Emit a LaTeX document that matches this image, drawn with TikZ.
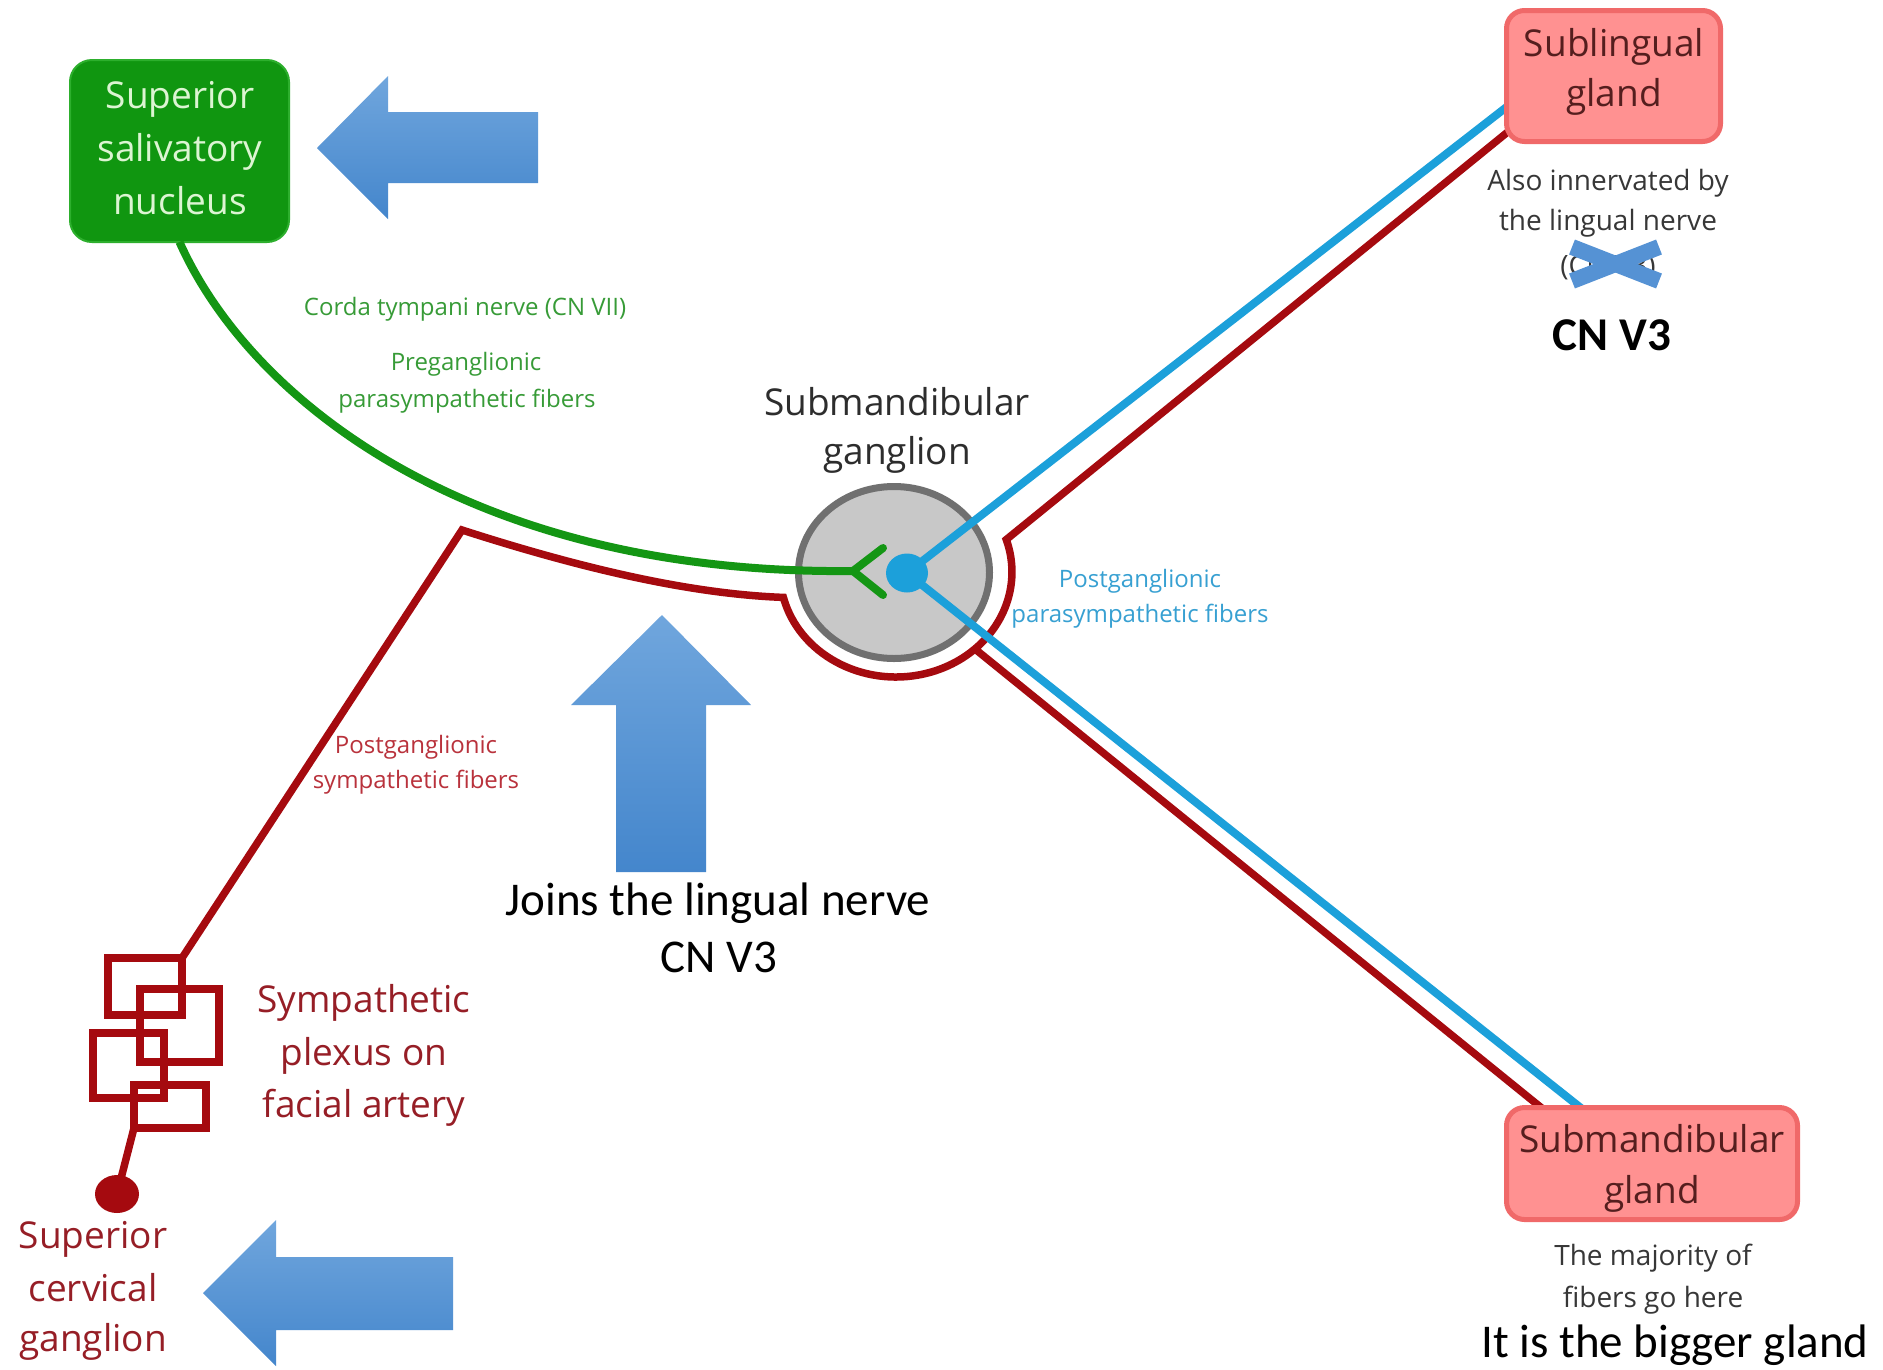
\documentclass[tikz,border=0pt]{standalone}
\usepackage{fontspec}
\setmainfont{Open Sans}
\newfontfamily\calib{Carlito}
\usetikzlibrary{shapes.geometric}
\definecolor{nvgreen}{RGB}{20,150,20}
\definecolor{boxgreen}{RGB}{16,150,16}
\definecolor{boxgreenedge}{RGB}{45,175,45}
\definecolor{boxgreentext}{RGB}{220,245,210}
\definecolor{lblgreen}{RGB}{55,155,55}
\definecolor{nvred}{RGB}{165,10,15}
\definecolor{lblred}{RGB}{185,50,60}
\definecolor{plexred}{RGB}{150,30,38}
\definecolor{nvblue}{RGB}{28,160,218}
\definecolor{lblblue}{RGB}{55,160,210}
\definecolor{gfill}{RGB}{200,200,200}
\definecolor{gdraw}{RGB}{112,112,112}
\definecolor{pinkfill}{RGB}{255,145,145}
\definecolor{pinkdraw}{RGB}{240,105,105}
\definecolor{pinktext}{RGB}{85,30,30}
\definecolor{dgray}{RGB}{45,45,45}
\definecolor{mgray}{RGB}{55,55,55}
\definecolor{arrtop}{RGB}{112,166,221}
\definecolor{arrbot}{RGB}{68,134,204}
\definecolor{xblue}{RGB}{85,146,212}
\begin{document}
\begin{tikzpicture}[x=1pt,y=-1pt,
  lab/.style={anchor=base, inner sep=0pt, outer sep=0pt},
  fbig/.style={font=\fontsize{37}{44}\selectfont},
  fsmall/.style={font=\fontsize{24}{28}\selectfont},
  fmid/.style={font=\fontsize{28}{32}\selectfont},
  fcal/.style={font=\calib\fontsize{47}{56}\selectfont},
  nerve/.style={line width=7.5pt, line join=miter},
  rednerve/.style={nerve, draw=nvred},
  greennerve/.style={nerve, line width=8pt, draw=nvgreen},
  bluenerve/.style={nerve, line width=8pt, draw=nvblue},
  plexbox/.style={rectangle, draw=nvred, line width=7.5pt, inner sep=0pt, outer sep=0pt},
  glandbox/.style={rectangle, rounded corners=18pt, fill=pinkfill, draw=pinkdraw, line width=5pt, inner sep=0pt, outer sep=0pt},
  bigarrow/.style={top color=arrtop, bottom color=arrbot},
  xbar/.style={draw=xblue, line width=16pt}
]
\path[use as bounding box, fill=white] (0,0) rectangle (1883,1369);

% ---------- ganglion ----------
\node[ellipse, fill=gfill, draw=gdraw, line width=7pt, minimum width=191pt, minimum height=172pt, inner sep=0pt, outer sep=0pt] (gang) at (894,572.5) {};

% ---------- superior salivatory nucleus ----------
\node[rectangle, rounded corners=22pt, fill=boxgreen, draw=boxgreenedge, line width=2pt, minimum width=219pt, minimum height=182pt, inner sep=0pt, outer sep=0pt] (ssn) at (179.5,151) {};

% ---------- coordinates ----------
\coordinate (gfork) at (853,571);
\coordinate (gup) at (883,548);
\coordinate (gdn) at (883,595);
\coordinate (rpk) at (462,530);
\coordinate (rcor) at (783.4,597.4);
\coordinate (rsl) at (1512,128.5);
\coordinate (rlo) at (975,649);
\coordinate (rsm) at (1546.6,1112);
\coordinate (bsl) at (1512,102.8);
\coordinate (bsm) at (1586,1112);

% ---------- plexus ----------
\node[plexbox, minimum width=74pt, minimum height=57pt] (pb1) at (145,986.5) {};
\node[plexbox, minimum width=79pt, minimum height=73pt] (pb2) at (179.5,1025.5) {};
\node[plexbox, minimum width=71pt, minimum height=65pt] (pb3) at (128.5,1065.5) {};
\node[plexbox, minimum width=72pt, minimum height=43pt] (pb4) at (170,1106.5) {};
\node[ellipse, fill=nvred, minimum width=44pt, minimum height=38pt, inner sep=0pt, outer sep=0pt] (scg) at (117,1194) {};
\draw[rednerve] (pb4.south west) -- (scg.center);

% ---------- red sympathetic path ----------
\draw[rednerve] (pb1.north east) -- (rpk) .. controls (580,568) and (690,594) .. (rcor)
  arc[start angle=166, end angle=-18, x radius=116, y radius=105] -- (rsl);
\draw[rednerve] (rlo) -- (rsm);

% ---------- green preganglionic ----------
\draw[greennerve] (ssn.south) .. controls (250,400) and (470,575) .. (gfork);
\draw[greennerve, line cap=round] (gfork) -- (gup);
\draw[greennerve, line cap=round] (gfork) -- (gdn);

% ---------- blue postganglionic ----------
\node[ellipse, fill=nvblue, minimum width=42pt, minimum height=39pt, inner sep=0pt, outer sep=0pt] (pdot) at (907,573) {};
\draw[bluenerve] (pdot.center) -- (bsl);
\draw[bluenerve] (pdot.center) -- (bsm);

% ---------- glands ----------
\node[glandbox, minimum width=214pt, minimum height=131pt] (subl) at (1613.5,76) {};
\node[glandbox, minimum width=291pt, minimum height=112pt] (smg) at (1652,1163.5) {};

% ---------- texts ----------
\node[lab, fbig, text=boxgreentext] (ssn1) at (180,108) {Superior};
\node[lab, fbig, text=boxgreentext] (ssn2) at (180,161) {salivatory};
\node[lab, fbig, text=boxgreentext] (ssn3) at (180,214) {nucleus};

\node[lab, fsmall, text=lblgreen] (corda) at (465,315) {Corda tympani nerve (CN VII)};
\node[lab, fsmall, text=lblgreen] (pre1) at (466,370) {Preganglionic};
\node[lab, fsmall, text=lblgreen] (pre2) at (467,407) {parasympathetic fibers};

\node[lab, fbig, text=dgray] (sg1) at (897,415) {Submandibular};
\node[lab, fbig, text=dgray] (sg2) at (897,464) {ganglion};

\node[lab, fsmall, text=lblblue] (pp1) at (1140,587) {Postganglionic};
\node[lab, fsmall, text=lblblue] (pp2) at (1140,622) {parasympathetic fibers};

\node[lab, fsmall, text=lblred] (ps1) at (416,753) {Postganglionic};
\node[lab, fsmall, text=lblred] (ps2) at (416,788) {sympathetic fibers};

\node[lab, fbig, text=plexred] (pl1) at (364,1012) {Sympathetic};
\node[lab, fbig, text=plexred] (pl2) at (364,1065) {plexus on};
\node[lab, fbig, text=plexred] (pl3) at (364,1117) {facial artery};

\node[lab, fbig, text=plexred] (sc1) at (93,1248) {Superior};
\node[lab, fbig, text=plexred] (sc2) at (93,1301) {cervical};
\node[lab, fbig, text=plexred] (sc3) at (93,1351) {ganglion};

\node[lab, fbig, text=pinktext] (sl1) at (1614,56) {Sublingual};
\node[lab, fbig, text=pinktext] (sl2) at (1614,106) {gland};

\node[lab, fmid, text=mgray] (ai1) at (1608,190) {Also innervated by};
\node[lab, fmid, text=mgray] (ai2) at (1608,230) {the lingual nerve};
\node[lab, fmid, text=mgray] (ai3) at (1608,275) {(CN V3)};

\node[lab, fbig, text=pinktext] (sm1) at (1652,1152) {Submandibular};
\node[lab, fbig, text=pinktext] (sm2) at (1652,1203) {gland};

\node[lab, fmid, text=mgray] (mj1) at (1653,1265) {The majority of};
\node[lab, fmid, text=mgray] (mj2) at (1653,1307) {fibers go here};

% ---------- annotations ----------
\shade[bigarrow] (317,148) -- (388,76) -- (388,112) -- (538,112) -- (538,183) -- (388,183) -- (388,219) -- cycle;
\shade[bigarrow] (203,1293) -- (276,1220) -- (276,1257) -- (453,1257) -- (453,1330) -- (276,1330) -- (276,1366) -- cycle;
\shade[bigarrow] (662,615) -- (751,705) -- (706,705) -- (706,872) -- (616,872) -- (616,705) -- (571,705) -- cycle;

\draw[xbar] (1572,247) -- (1659,281);
\draw[xbar] (1572,281) -- (1659,247);

\node[lab, font=\calib\bfseries\fontsize{47}{56}\selectfont, text=black] (cnv3a) at (1612,350) {CN V3};
\node[lab, fcal, text=black] (joins1) at (718,915) {Joins the lingual nerve};
\node[lab, fcal, text=black] (joins2) at (719,972) {CN V3};
\node[lab, fcal, text=black] (bigger) at (1675,1357) {It is the bigger gland};
\end{tikzpicture}
\end{document}
